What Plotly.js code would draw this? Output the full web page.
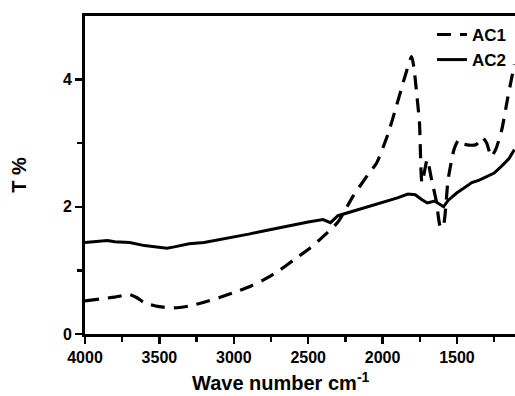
<!DOCTYPE html>
<html>
<head>
<meta charset="utf-8">
<script src="https://cdn.plot.ly/plotly-3.0.1.min.js"></script>
<style>html,body{margin:0;padding:0;background:#fff;}#chart{width:515px;height:396px;}</style>
</head>
<body>
<div id="chart"></div>
<script>
var ac1Wave = [4000, 3900, 3800, 3700, 3650, 3600, 3500, 3400, 3300, 3200, 3100, 3000, 2900, 2800, 2700, 2600, 2500, 2400, 2300, 2200, 2100, 2040, 1966, 1906, 1852, 1805, 1790, 1772, 1752, 1735, 1700, 1670, 1640, 1610, 1590, 1560, 1520, 1490, 1470, 1420, 1370, 1330, 1300, 1270, 1240, 1200, 1160, 1114];
var ac1Value = [0.52, 0.55, 0.58, 0.62, 0.57, 0.49, 0.43, 0.41, 0.44, 0.50, 0.57, 0.65, 0.74, 0.85, 0.99, 1.16, 1.33, 1.53, 1.76, 2.16, 2.50, 2.69, 3.13, 3.59, 4.03, 4.36, 4.20, 3.81, 3.32, 2.38, 2.74, 2.42, 2.10, 1.67, 1.72, 2.42, 2.90, 3.05, 3.00, 2.97, 2.98, 3.09, 3.00, 2.79, 2.90, 3.20, 3.70, 4.24];
var ac2Wave = [4000, 3900, 3850, 3800, 3700, 3600, 3500, 3450, 3400, 3300, 3200, 3100, 3000, 2900, 2800, 2700, 2600, 2500, 2400, 2350, 2300, 2200, 2100, 2000, 1900, 1830, 1780, 1740, 1700, 1650, 1620, 1590, 1560, 1500, 1450, 1400, 1350, 1300, 1250, 1200, 1150, 1114];
var ac2Value = [1.44, 1.46, 1.47, 1.45, 1.44, 1.39, 1.36, 1.35, 1.37, 1.42, 1.44, 1.48, 1.53, 1.57, 1.62, 1.67, 1.71, 1.76, 1.80, 1.75, 1.86, 1.93, 2.00, 2.06, 2.14, 2.20, 2.19, 2.12, 2.06, 2.09, 2.04, 2.00, 2.10, 2.22, 2.30, 2.38, 2.42, 2.47, 2.53, 2.64, 2.76, 2.90];
var xTicks = [4000, 3500, 3000, 2500, 2000, 1500];
var yTicks = [0, 2, 4];
var xTitle = 'Wave number cm<sup>-1</sup>';
var yTitle = 'T %';

var FAM = 'Liberation Sans, Arial, sans-serif';
var traces = [
  {x: ac1Wave, y: ac1Value, name: 'AC1', type: 'scatter', mode: 'lines',
   line: {color: '#000', width: 3.2, dash: '14px,9px', shape: 'spline', smoothing: 0.6}},
  {x: ac2Wave, y: ac2Value, name: 'AC2', type: 'scatter', mode: 'lines',
   line: {color: '#000', width: 3}}
];
var fnt = {family: FAM, size: 16, color: '#000', weight: 'bold'};
var layout = {
  width: 515, height: 396,
  margin: {l: 85, r: 0, t: 16, b: 62},
  paper_bgcolor: '#fff', plot_bgcolor: '#fff',
  showlegend: true,
  legend: {x: 0.993, y: 0.997, xanchor: 'right', yanchor: 'top', bgcolor: 'rgba(0,0,0,0)',
           font: {family: FAM, size: 17, color: '#000', weight: 'bold'},
           itemwidth: 30, tracegroupgap: 0},
  xaxis: {
    range: [4000, 1110], autorange: false,
    tickvals: xTicks, ticktext: xTicks.map(String),
    ticks: 'outside', ticklen: 7, tickwidth: 2.5, tickcolor: '#000',
    minor: {tickvals: [3750, 3250, 2750, 2250, 1750, 1250], ticks: 'outside', ticklen: 5, tickwidth: 2.5, tickcolor: '#000'},
    showline: true, linewidth: 3, linecolor: '#000', mirror: true,
    showgrid: false, zeroline: false,
    tickfont: fnt
  },
  yaxis: {
    range: [0, 5], autorange: false,
    tickvals: yTicks, ticktext: yTicks.map(String),
    ticks: 'outside', ticklen: 7, tickwidth: 2.5, tickcolor: '#000',
    minor: {tickvals: [1, 3], ticks: 'outside', ticklen: 5, tickwidth: 2.5, tickcolor: '#000'},
    showline: true, linewidth: 3, linecolor: '#000', mirror: false,
    showgrid: false, zeroline: false,
    tickfont: fnt,
    title: {text: yTitle, font: {family: FAM, size: 20, color: '#000', weight: 'bold'}, standoff: 31}
  },
  annotations: [
    {text: xTitle, xref: 'paper', yref: 'paper', x: 0.456, y: -0.15, xanchor: 'center', yanchor: 'middle',
     showarrow: false, font: {family: FAM, size: 20, color: '#000', weight: 'bold'}}
  ]
};
Plotly.newPlot('chart', traces, layout, {displayModeBar: false, staticPlot: true});
</script>
</body>
</html>
